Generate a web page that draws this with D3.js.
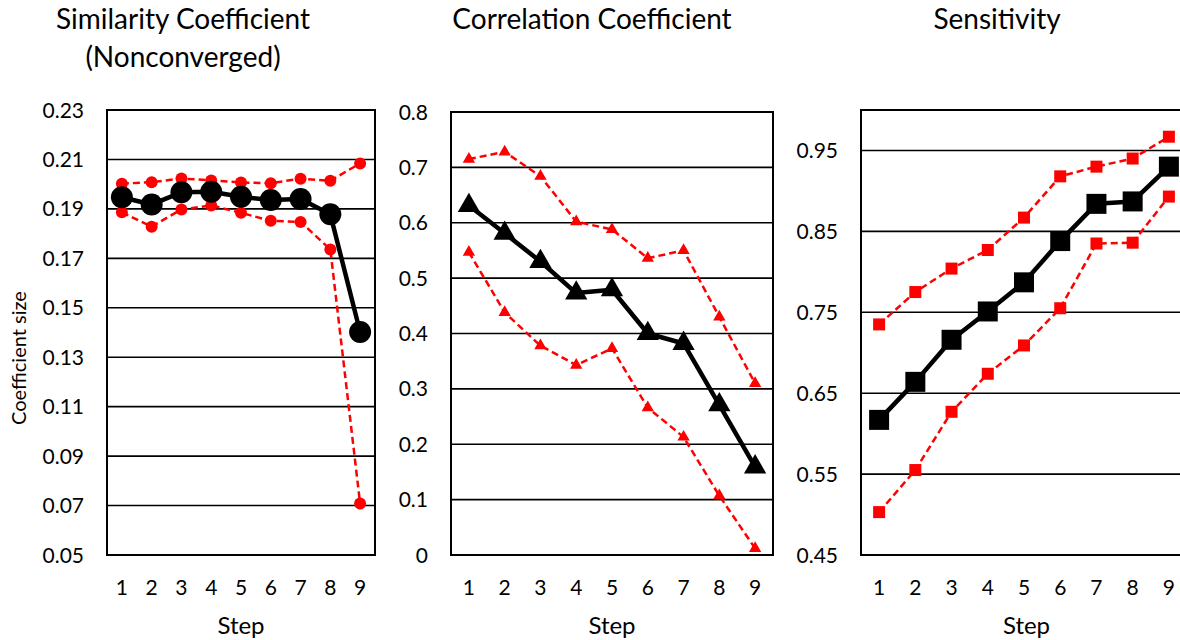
<!DOCTYPE html>
<html>
<head>
<meta charset="utf-8">
<script src="https://cdn.jsdelivr.net/npm/d3@7"></script>
<style>
  body { margin: 0; background: #fff; }
  text { font-family: Lato, "Open Sans", sans-serif; fill: #000; }
</style>
</head>
<body>
<script>
// values, steps 1..9
const steps = [1, 2, 3, 4, 5, 6, 7, 8, 9];

const simMean  = [0.1947, 0.1918, 0.1967, 0.1969, 0.1949, 0.1936, 0.1940, 0.1878, 0.1402];
const simUpper = [0.2002, 0.2008, 0.2023, 0.2015, 0.2007, 0.2004, 0.2022, 0.2014, 0.2084];
const simLower = [0.1886, 0.1828, 0.1898, 0.1914, 0.1884, 0.1852, 0.1847, 0.1736, 0.0708];
const simTicks = [0.05, 0.07, 0.09, 0.11, 0.13, 0.15, 0.17, 0.19, 0.21, 0.23];

const corMean  = [0.631, 0.581, 0.530, 0.473, 0.479, 0.400, 0.382, 0.271, 0.159];
const corUpper = [0.715, 0.728, 0.684, 0.602, 0.588, 0.536, 0.550, 0.430, 0.310];
const corLower = [0.547, 0.438, 0.378, 0.343, 0.373, 0.266, 0.213, 0.107, 0.012];
const corTicks = [0, 0.1, 0.2, 0.3, 0.4, 0.5, 0.6, 0.7, 0.8];

const senMean  = [0.617, 0.664, 0.716, 0.751, 0.787, 0.838, 0.884, 0.887, 0.930];
const senUpper = [0.735, 0.775, 0.804, 0.827, 0.867, 0.918, 0.930, 0.940, 0.967];
const senLower = [0.503, 0.555, 0.627, 0.674, 0.709, 0.755, 0.835, 0.836, 0.893];
const senTicks = [0.45, 0.55, 0.65, 0.75, 0.85, 0.95];

const W = 1180, H = 640;
const svg = d3.select('body')
  .append('svg')
  .attr('width', W)
  .attr('height', H);

const panels = [
  { title: ['Similarity Coefficient', '(Nonconverged)'], titleX: 183,
    left: 107, right: 375, top: 110, bottom: 555,
    domain: [0.05, 0.23], ticks: simTicks, fmt: d3.format('.2f'),
    mean: simMean, upper: simUpper, lower: simLower, marker: 'circle' },
  { title: ['Correlation Coefficient'], titleX: 592,
    left: 451, right: 773, top: 112, bottom: 555,
    domain: [0, 0.8], ticks: corTicks, fmt: d => d3.format('.1f')(d).replace(/^0\.0$/, '0'),
    mean: corMean, upper: corUpper, lower: corLower, marker: 'triangle' },
  { title: ['Sensitivity'], titleX: 997,
    left: 861, right: 1187, top: 110, bottom: 555,
    domain: [0.45, 1.0], ticks: senTicks, fmt: d3.format('.2f'),
    mean: senMean, upper: senUpper, lower: senLower, marker: 'square' },
];

panels.forEach(drawPanel);

// y axis title on the first panel only
svg.append('text')
  .attr('transform', 'translate(26 358) rotate(-90)')
  .attr('text-anchor', 'middle')
  .style('font-size', '20px')
  .text('Coefficient size');

function drawPanel (p) {
  const x = d3.scalePoint()
    .domain(steps)
    .range([p.left, p.right])
    .padding(0.5);
  const y = d3.scaleLinear()
    .domain(p.domain)
    .range([p.bottom, p.top]);

  const g = svg.append('g');

  // horizontal gridlines
  g.selectAll('.grid')
    .data(p.ticks)
    .enter()
      .append('line')
      .attr('x1', p.left)
      .attr('x2', p.right)
      .attr('y1', d => y(d))
      .attr('y2', d => y(d))
      .attr('stroke', '#000')
      .attr('stroke-width', 1.6);

  // plot frame
  g.append('rect')
    .attr('x', p.left)
    .attr('y', p.top)
    .attr('width', p.right - p.left)
    .attr('height', p.bottom - p.top)
    .attr('fill', 'none')
    .attr('stroke', '#000')
    .attr('stroke-width', 2);

  // y tick labels
  g.selectAll('.ylab')
    .data(p.ticks)
    .enter()
      .append('text')
      .attr('x', p.left - 23)
      .attr('y', d => y(d))
      .attr('dy', '0.36em')
      .attr('text-anchor', 'end')
      .style('font-size', '21px')
      .text(p.fmt);

  // x tick labels
  g.selectAll('.xlab')
    .data(steps)
    .enter()
      .append('text')
      .attr('x', d => x(d))
      .attr('y', 595)
      .attr('text-anchor', 'middle')
      .style('font-size', '21px')
      .text(d => d);

  g.append('text')
    .attr('x', (p.left + Math.min(p.right, W)) / 2 + (p.right > W ? 6 : 0))
    .attr('y', 634)
    .attr('text-anchor', 'middle')
    .style('font-size', '24px')
    .text('Step');

  p.title.forEach((t, i) => {
    g.append('text')
      .attr('x', p.titleX)
      .attr('y', 29 + i * 38)
      .attr('text-anchor', 'middle')
      .style('font-size', '28px')
      .text(t);
  });

  const line = d3.line()
    .x((d, i) => x(steps[i]))
    .y(d => y(d));

  [p.upper, p.lower].forEach(s => {
    g.append('path')
      .attr('d', line(s))
      .attr('fill', 'none')
      .attr('stroke', '#ff0000')
      .attr('stroke-width', 2.5)
      .attr('stroke-dasharray', '7,4');
    drawMarkers(g, s, x, y, p.marker, false);
  });

  g.append('path')
    .attr('d', line(p.mean))
    .attr('fill', 'none')
    .attr('stroke', '#000')
    .attr('stroke-width', 4.5)
    .attr('stroke-linejoin', 'round');
  drawMarkers(g, p.mean, x, y, p.marker, true);
}

function drawMarkers (g, s, x, y, kind, big) {
  const fill = big ? '#000' : '#ff0000';
  const sel = g.selectAll(null).data(s).enter();
  if (kind === 'circle') {
    sel.append('circle')
      .attr('cx', (d, i) => x(steps[i]))
      .attr('cy', d => y(d))
      .attr('r', big ? 11 : 6)
      .attr('fill', fill);
  } else {
    const sym = kind === 'triangle' ? d3.symbolTriangle : d3.symbolSquare;
    const size = kind === 'triangle' ? (big ? 215 : 66) : (big ? 400 : 144);
    sel.append('path')
      .attr('transform', (d, i) => `translate(${x(steps[i])} ${y(d)})`)
      .attr('d', d3.symbol().type(sym).size(size))
      .attr('fill', fill);
  }
}
</script>
</body>
</html>
